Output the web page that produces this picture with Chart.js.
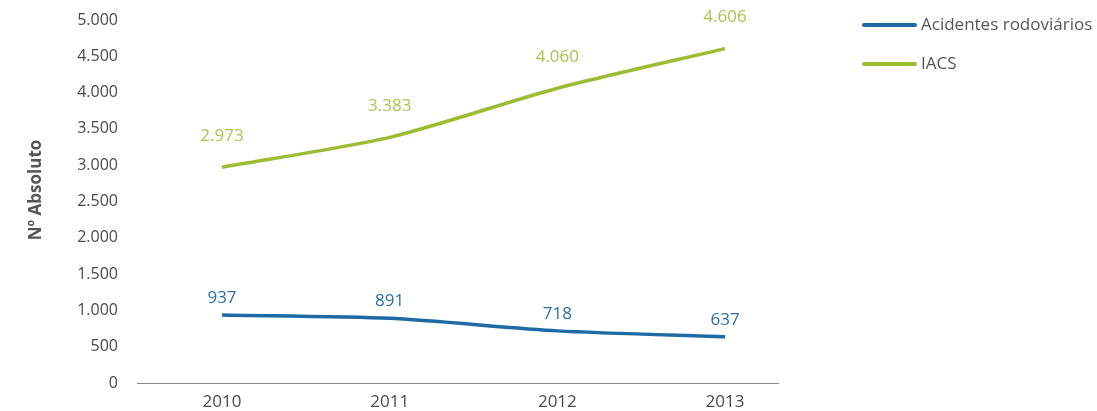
<!DOCTYPE html>
<html>
<head>
<meta charset="utf-8">
<script src="https://cdn.jsdelivr.net/npm/chart.js@4/dist/chart.umd.min.js"></script>
<style>
  html, body { margin: 0; padding: 0; background: #fff; }
  #wrap { width: 1097px; height: 411px; position: relative; }
</style>
</head>
<body>
<div id="wrap"><canvas id="chart"></canvas></div>
<script>
// Data
const years = [2010, 2011, 2012, 2013];
const acidentes = [937, 891, 718, 637];
const iacs = [2973, 3383, 4060, 4606];
const yTicks = [0, 500, 1000, 1500, 2000, 2500, 3000, 3500, 4000, 4500, 5000];

const BLUE = '#1d6aa5';
const GREEN = '#9cbd32';
const FONT = "'Open Sans', sans-serif";

const fmt = v => v.toLocaleString('de-DE');

// value labels above each point
const valueLabels = {
    id: 'valueLabels',
    afterDatasetsDraw(chart) {
        const ctx = chart.ctx;
        const styles = [
            { color: '#2b70a8', lift: 17 },
            { color: '#a9c64c', lift: 31 }
        ];
        chart.data.datasets.forEach((ds, i) => {
            const meta = chart.getDatasetMeta(i);
            ctx.save();
            ctx.font = '17px ' + FONT;
            ctx.fillStyle = styles[i].color;
            ctx.textAlign = 'center';
            ctx.textBaseline = 'middle';
            meta.data.forEach((pt, j) => {
                ctx.fillText(fmt(ds.data[j].y), pt.x, pt.y - styles[i].lift);
            });
            ctx.restore();
        });
    }
};

// legend on the right + rotated axis title
const sideLegend = {
    id: 'sideLegend',
    afterDraw(chart) {
        const ctx = chart.ctx;
        ctx.save();
        chart.data.datasets.forEach((ds, i) => {
            const y = 25 + i * 39;
            ctx.strokeStyle = ds.borderColor;
            ctx.lineWidth = 4;
            ctx.lineCap = 'round';
            ctx.beginPath();
            ctx.moveTo(864, y);
            ctx.lineTo(915, y);
            ctx.stroke();
            ctx.fillStyle = '#555';
            ctx.font = '17px ' + FONT;
            ctx.textAlign = 'left';
            ctx.textBaseline = 'middle';
            ctx.fillText(ds.label, 921, y);
        });

        ctx.translate(36, 190);
        ctx.rotate(-Math.PI / 2);
        ctx.fillStyle = '#555';
        ctx.font = 'bold 17px ' + FONT;
        ctx.textAlign = 'center';
        ctx.textBaseline = 'middle';
        ctx.fillText('Nº Absoluto', 0, 0);
        ctx.restore();
    }
};

new Chart(document.getElementById('chart'), {
    type: 'line',
    data: {
        datasets: [
            {
                label: 'Acidentes rodoviários',
                data: years.map((y, i) => ({ x: y, y: acidentes[i] })),
                borderColor: BLUE,
                borderWidth: 3.5,
                pointRadius: 0,
                tension: 0.25,
                fill: false
            },
            {
                label: 'IACS',
                data: years.map((y, i) => ({ x: y, y: iacs[i] })),
                borderColor: GREEN,
                borderWidth: 3.5,
                pointRadius: 0,
                tension: 0.25,
                fill: false
            }
        ]
    },
    options: {
        responsive: true,
        maintainAspectRatio: false,
        animation: false,
        layout: { padding: { top: 20, right: 319, bottom: 0, left: 0 } },
        plugins: { legend: { display: false }, tooltip: { enabled: false } },
        scales: {
            x: {
                type: 'linear',
                min: 2009.493,
                max: 2013.316,
                afterBuildTicks: axis => { axis.ticks = years.map(v => ({ value: v })); },
                grid: { display: false, drawTicks: false },
                border: { display: true, color: '#8a8a8a', width: 1 },
                ticks: {
                    color: '#4a4a4a',
                    font: { family: FONT, size: 17 },
                    padding: 9,
                    callback: v => String(v)
                },
                afterFit: axis => {
                    axis.height = 28;
                    axis.paddingLeft = 0;
                    axis.paddingRight = 0;
                }
            },
            y: {
                min: 0,
                max: 5000,
                afterBuildTicks: axis => { axis.ticks = yTicks.map(v => ({ value: v })); },
                grid: { display: false, drawTicks: false },
                border: { display: false },
                ticks: {
                    color: '#4a4a4a',
                    font: { family: FONT, size: 16 },
                    padding: 19,
                    callback: v => fmt(v)
                },
                afterFit: axis => {
                    axis.width = 137;
                    axis.paddingTop = 0;
                    axis.paddingBottom = 0;
                }
            }
        }
    },
    plugins: [valueLabels, sideLegend]
});
</script>
</body>
</html>
